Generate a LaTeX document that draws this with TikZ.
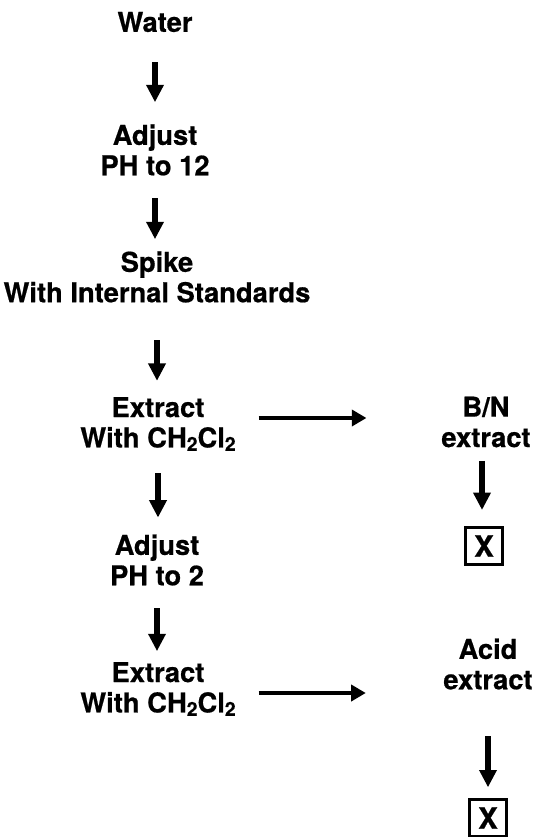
\documentclass[tikz,border=0pt]{standalone}
\usepackage{fontspec}
\setmainfont{TeX Gyre Heros}[BoldFeatures={FakeBold=0.6}]
\usetikzlibrary{arrows.meta}
\newcommand{\subtwo}{{\fontsize{14.5pt}{14.5pt}\selectfont\raisebox{-0.18em}{2}}}
\tikzset{
  lbl/.style={inner sep=0pt, align=center, font=\fontsize{20.5pt}{22.8pt}\selectfont\bfseries},
  varr/.style={line width=3.8pt, -{Triangle[width=12.5pt,length=13pt]}},
  harr/.style={line width=3.6pt, -{Triangle[width=12pt,length=11pt]}},
  xbox/.style={draw, line width=2pt, minimum size=28pt, inner sep=0pt, font=\fontsize{22pt}{22pt}\selectfont\bfseries}
}
\begin{document}
\begin{tikzpicture}[x=0.75pt,y=-0.75pt]
\useasboundingbox (0,0) rectangle (537,837);
% left column
\node[lbl] (water) at (155,22) {Water};
\node[lbl] (adj1) at (155,150) {Adjust\\PH to 12};
\node[lbl] (spike) at (157,277) {Spike\\With Internal Standards};
\node[lbl] (ext1) at (158,424) {Extract\\With CH\subtwo Cl\subtwo};
\node[lbl] (adj2) at (157,560) {Adjust\\PH to 2};
\node[lbl] (ext2) at (158,689) {Extract\\With CH\subtwo Cl\subtwo};
% right column
\node[lbl] (bn) at (486,422) {B/N\\extract};
\node[xbox] (x1) at (484,546) {X};
\node[lbl] (acid) at (488,664) {Acid\\extract};
\node[xbox] (x2) at (488,818) {X};
% vertical arrows
\draw[varr, shorten <=22.5pt, shorten >=16.5pt] (water.south) -- (water.south |- adj1.north);
\draw[varr, shorten <=17pt, shorten >=9pt] (adj1.south) -- (adj1.south |- spike.north);
\draw[varr, shorten <=28pt, shorten >=12pt] (spike.south) -- (spike.south |- ext1.north);
\draw[varr, shorten <=16.5pt, shorten >=12.5pt] (ext1.south) -- (ext1.south |- adj2.north);
\draw[varr, shorten <=17pt, shorten >=8pt] (adj2.south) -- (adj2.south |- ext2.north);
\draw[varr, shorten <=10pt, shorten >=12pt] ([xshift=-3pt]bn.south) -- ([xshift=-3pt]bn.south |- x1.north);
\draw[varr, shorten <=35pt, shorten >=8pt] (acid.south) -- (acid.south |- x2.north);
% horizontal arrows
\draw[harr, shorten <=17pt, shorten >=56pt] ([yshift=4.5pt]ext1.east) -- ([yshift=4.5pt]ext1.east -| bn.west);
\draw[harr, shorten <=17pt, shorten >=58pt] ([yshift=-3pt]ext2.east) -- ([yshift=-3pt]ext2.east -| acid.west);
\end{tikzpicture}
\end{document}
